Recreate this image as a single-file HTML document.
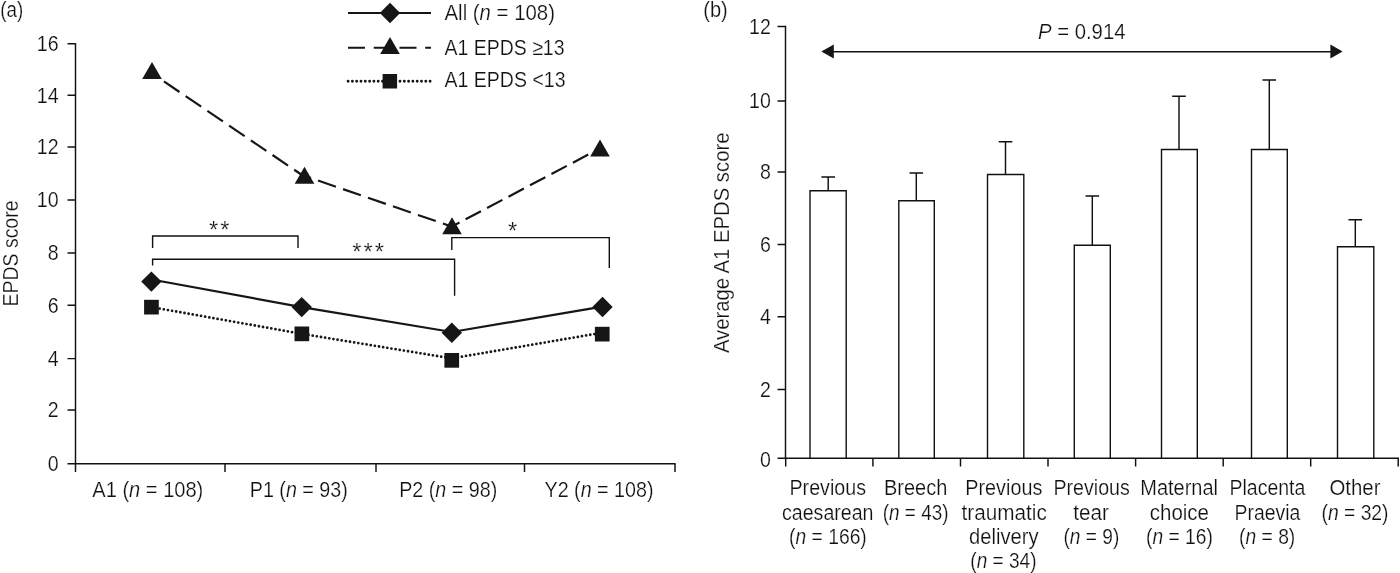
<!DOCTYPE html>
<html><head><meta charset="utf-8"><title>Figure</title>
<style>
html,body{margin:0;padding:0;background:#fff;}
body{width:1400px;height:573px;overflow:hidden;}
svg{display:block;will-change:transform;}
text{font-family:"Liberation Sans",sans-serif;font-size:22.0px;fill:#111;stroke:#fff;stroke-width:0.22px;paint-order:fill stroke;}
.ax{stroke:#111;stroke-width:1.45;fill:none;}
.th{stroke:#111;stroke-width:1.4;fill:none;}
.bar{stroke:#111;stroke-width:1.4;fill:#fff;}
.mk{fill:#161616;stroke:none;}
i,tspan.i{font-style:italic;}
.as{font-size:23.7px;letter-spacing:2.1px;}
</style></head><body>
<svg width="1400" height="573" viewBox="0 0 1400 573">
<rect width="1400" height="573" fill="#fff"/>
<text x="0.2" y="17.0" text-anchor="start" textLength="23.0" lengthAdjust="spacingAndGlyphs">(a)</text>
<path class="ax" d="M75.5 43.2V463.8H675.6"/>
<path class="ax" d="M67.5 43.8H75.5M67.5 95.2H75.5M67.5 147.0H75.5M67.5 200.0H75.5M67.5 253.0H75.5M67.5 305.2H75.5M67.5 358.6H75.5M67.5 410.0H75.5M67.5 463.8H75.5M75.5 463.8V472M225.0 463.8V472M376.0 463.8V472M524.5 463.8V472M675.0 463.8V472"/>
<text x="58.6" y="51.2" text-anchor="end" textLength="21.8" lengthAdjust="spacingAndGlyphs">16</text>
<text x="58.6" y="102.6" text-anchor="end" textLength="21.8" lengthAdjust="spacingAndGlyphs">14</text>
<text x="58.6" y="154.4" text-anchor="end" textLength="21.8" lengthAdjust="spacingAndGlyphs">12</text>
<text x="58.6" y="207.4" text-anchor="end" textLength="21.8" lengthAdjust="spacingAndGlyphs">10</text>
<text x="58.6" y="260.4" text-anchor="end" textLength="10.9" lengthAdjust="spacingAndGlyphs">8</text>
<text x="58.6" y="312.6" text-anchor="end" textLength="10.9" lengthAdjust="spacingAndGlyphs">6</text>
<text x="58.6" y="366.0" text-anchor="end" textLength="10.9" lengthAdjust="spacingAndGlyphs">4</text>
<text x="58.6" y="417.4" text-anchor="end" textLength="10.9" lengthAdjust="spacingAndGlyphs">2</text>
<text x="58.6" y="471.2" text-anchor="end" textLength="10.9" lengthAdjust="spacingAndGlyphs">0</text>
<text transform="translate(18.4 253.5) rotate(-90)" text-anchor="middle" textLength="106" lengthAdjust="spacingAndGlyphs">EPDS score</text>
<text x="92.3" y="496.8" text-anchor="start" textLength="111.0" lengthAdjust="spacingAndGlyphs">A1 (<tspan class="i">n</tspan> = 108)</text>
<text x="249.8" y="496.8" text-anchor="start" textLength="98.0" lengthAdjust="spacingAndGlyphs">P1 (<tspan class="i">n</tspan> = 93)</text>
<text x="399.2" y="496.8" text-anchor="start" textLength="98.0" lengthAdjust="spacingAndGlyphs">P2 (<tspan class="i">n</tspan> = 98)</text>
<text x="544.5" y="496.8" text-anchor="start" textLength="109.0" lengthAdjust="spacingAndGlyphs">Y2 (<tspan class="i">n</tspan> = 108)</text>
<path d="M348 13H431" stroke="#161616" stroke-width="1.8" fill="none"/>
<path d="M348 47.8H431" stroke="#161616" stroke-width="1.9" stroke-dasharray="17 8.75" fill="none"/>
<path d="M348.1 81.3H383M400 81.3H431" stroke="#161616" stroke-width="2.9" stroke-linecap="round" stroke-dasharray="0 4.3" fill="none"/>
<path class="mk" d="M379.8 13.0L390.0 2.8L400.2 13.0L390.0 23.2Z"/>
<path class="mk" d="M390.0 37.0L399.8 54.0L380.2 54.0Z"/>
<rect class="mk" x="382.6" y="74.0" width="14.5" height="14.5"/>
<text x="444.5" y="19.6" text-anchor="start" textLength="110.5" lengthAdjust="spacingAndGlyphs">All (<tspan class="i">n</tspan> = 108)</text>
<text x="444.5" y="55.0" text-anchor="start" textLength="120.0" lengthAdjust="spacingAndGlyphs">A1 EPDS &#8805;13</text>
<text x="444.5" y="87.4" text-anchor="start" textLength="121.0" lengthAdjust="spacingAndGlyphs">A1 EPDS &lt;13</text>
<path d="M150.0 72.0L302.0 175.0" stroke="#161616" stroke-width="2.2" stroke-dasharray="18.75 7.48" stroke-dashoffset="9.38" fill="none"/>
<path d="M302.0 175.0L451.8 226.6" stroke="#161616" stroke-width="2.2" stroke-dasharray="18.88 7.53" stroke-dashoffset="9.44" fill="none"/>
<path d="M451.8 226.6L602.0 147.3" stroke="#161616" stroke-width="2.2" stroke-dasharray="17.35 6.92" stroke-dashoffset="8.67" fill="none"/>
<path d="M151.4 279.5L301.7 307.1L451.8 332L602.4 306.6" stroke="#161616" stroke-width="2.2" fill="none"/>
<path d="M151.4 307.1L301.9 333.9L451.8 358.4L602.3 332.7" stroke="#161616" stroke-width="2.8" stroke-linecap="round" stroke-dasharray="0 4.2" fill="none"/>
<path class="mk" d="M152.0 62.0L161.8 79.0L142.2 79.0Z"/>
<path class="mk" d="M304.5 166.8L314.3 183.8L294.7 183.8Z"/>
<path class="mk" d="M452.0 217.3L461.8 234.3L442.2 234.3Z"/>
<path class="mk" d="M600.0 139.5L609.8 156.5L590.2 156.5Z"/>
<path class="mk" d="M141.2 281.6L151.4 271.4L161.6 281.6L151.4 291.8Z"/>
<path class="mk" d="M291.5 307.1L301.7 296.9L311.9 307.1L301.7 317.3Z"/>
<path class="mk" d="M441.6 332.7L451.8 322.5L462.0 332.7L451.8 342.9Z"/>
<path class="mk" d="M592.3 307.0L602.5 296.8L612.7 307.0L602.5 317.2Z"/>
<rect class="mk" x="144.1" y="299.8" width="14.7" height="14.7"/>
<rect class="mk" x="294.5" y="326.5" width="14.7" height="14.7"/>
<rect class="mk" x="444.4" y="353.0" width="14.7" height="14.7"/>
<rect class="mk" x="594.9" y="326.8" width="14.7" height="14.7"/>
<path class="th" d="M152.6 248V236H298V248"/>
<path class="th" d="M152.6 265.5V259.3H454.6V295.8"/>
<path class="th" d="M451.8 250V237.6H609.3V267.9"/>
<text x="208.9" y="237.6" text-anchor="start" class="as">**</text>
<text x="352.2" y="260.3" text-anchor="start" class="as">***</text>
<text x="508.0" y="239.0" text-anchor="start" class="as">*</text>
<text x="703.3" y="17.0" text-anchor="start" textLength="24.5" lengthAdjust="spacingAndGlyphs">(b)</text>
<path class="bar" d="M810.0 458.3V190.8H846.2V458.3"/>
<path class="ax" d="M828.2 190.8V177.0M821.4 177.0H835.0"/>
<path class="bar" d="M898.8 458.3V200.8H934.3V458.3"/>
<path class="ax" d="M916.3 200.8V173.0M909.5 173.0H923.1"/>
<path class="bar" d="M987.5 458.3V174.5H1023.8V458.3"/>
<path class="ax" d="M1005.5 174.5V141.8M998.7 141.8H1012.3"/>
<path class="bar" d="M1074.3 458.3V245.3H1110.3V458.3"/>
<path class="ax" d="M1092.3 245.3V196.0M1085.5 196.0H1099.1"/>
<path class="bar" d="M1161.5 458.3V149.5H1197.3V458.3"/>
<path class="ax" d="M1179.0 149.5V96.3M1172.2 96.3H1185.8"/>
<path class="bar" d="M1251.5 458.3V149.5H1287.3V458.3"/>
<path class="ax" d="M1269.3 149.5V80.0M1262.5 80.0H1276.1"/>
<path class="bar" d="M1337.5 458.3V246.8H1373.8V458.3"/>
<path class="ax" d="M1355.3 246.8V219.8M1348.5 219.8H1362.1"/>
<path class="ax" d="M785.5 25.7V458.3H1399"/>
<path class="ax" d="M777.5 26.4H785.5M777.5 101.0H785.5M777.5 172.0H785.5M777.5 244.5H785.5M777.5 316.8H785.5M777.5 389.5H785.5M777.5 458.3H785.5M785.7 458.3V466.4M872.9 458.3V466.4M960.5 458.3V466.4M1048.0 458.3V466.4M1135.6 458.3V466.4M1223.2 458.3V466.4M1310.7 458.3V466.4M1398.2 458.3V466.4"/>
<text x="770.8" y="33.8" text-anchor="end" textLength="21.8" lengthAdjust="spacingAndGlyphs">12</text>
<text x="770.8" y="108.4" text-anchor="end" textLength="21.8" lengthAdjust="spacingAndGlyphs">10</text>
<text x="770.8" y="179.4" text-anchor="end" textLength="10.9" lengthAdjust="spacingAndGlyphs">8</text>
<text x="770.8" y="251.9" text-anchor="end" textLength="10.9" lengthAdjust="spacingAndGlyphs">6</text>
<text x="770.8" y="324.2" text-anchor="end" textLength="10.9" lengthAdjust="spacingAndGlyphs">4</text>
<text x="770.8" y="396.9" text-anchor="end" textLength="10.9" lengthAdjust="spacingAndGlyphs">2</text>
<text x="770.8" y="466.9" text-anchor="end" textLength="10.9" lengthAdjust="spacingAndGlyphs">0</text>
<text transform="translate(728.8 242.8) rotate(-90)" text-anchor="middle" textLength="220.5" lengthAdjust="spacingAndGlyphs">Average A1 EPDS score</text>
<path class="ax" d="M832 51.7H1332"/>
<path class="mk" d="M821.3 51.5L833.8 44.6V58.4Z"/>
<path class="mk" d="M1342.6 51.5L1330.4 44.6V58.4Z"/>
<text x="1038.0" y="38.8" text-anchor="start" textLength="87.5" lengthAdjust="spacingAndGlyphs"><tspan class="i">P</tspan> = 0.914</text>
<text x="789.5" y="495.0" text-anchor="start" textLength="76.5" lengthAdjust="spacingAndGlyphs">Previous</text>
<text x="782.0" y="519.5" text-anchor="start" textLength="91.5" lengthAdjust="spacingAndGlyphs">caesarean</text>
<text x="789.0" y="543.8" text-anchor="start" textLength="77.8" lengthAdjust="spacingAndGlyphs">(<tspan class="i">n</tspan> = 166)</text>
<text x="884.0" y="495.0" text-anchor="start" textLength="63.3" lengthAdjust="spacingAndGlyphs">Breech</text>
<text x="882.8" y="519.5" text-anchor="start" textLength="65.7" lengthAdjust="spacingAndGlyphs">(<tspan class="i">n</tspan> = 43)</text>
<text x="965.3" y="495.0" text-anchor="start" textLength="77.0" lengthAdjust="spacingAndGlyphs">Previous</text>
<text x="961.5" y="519.5" text-anchor="start" textLength="85.3" lengthAdjust="spacingAndGlyphs">traumatic</text>
<text x="969.0" y="543.8" text-anchor="start" textLength="69.5" lengthAdjust="spacingAndGlyphs">delivery</text>
<text x="970.3" y="568.3" text-anchor="start" textLength="66.2" lengthAdjust="spacingAndGlyphs">(<tspan class="i">n</tspan> = 34)</text>
<text x="1053.5" y="495.0" text-anchor="start" textLength="76.3" lengthAdjust="spacingAndGlyphs">Previous</text>
<text x="1073.3" y="519.5" text-anchor="start" textLength="35.7" lengthAdjust="spacingAndGlyphs">tear</text>
<text x="1063.5" y="543.8" text-anchor="start" textLength="55.8" lengthAdjust="spacingAndGlyphs">(<tspan class="i">n</tspan> = 9)</text>
<text x="1140.3" y="495.0" text-anchor="start" textLength="77.7" lengthAdjust="spacingAndGlyphs">Maternal</text>
<text x="1149.8" y="519.5" text-anchor="start" textLength="59.2" lengthAdjust="spacingAndGlyphs">choice</text>
<text x="1146.0" y="543.8" text-anchor="start" textLength="66.8" lengthAdjust="spacingAndGlyphs">(<tspan class="i">n</tspan> = 16)</text>
<text x="1229.5" y="495.0" text-anchor="start" textLength="75.8" lengthAdjust="spacingAndGlyphs">Placenta</text>
<text x="1234.5" y="519.5" text-anchor="start" textLength="65.8" lengthAdjust="spacingAndGlyphs">Praevia</text>
<text x="1239.0" y="543.8" text-anchor="start" textLength="56.3" lengthAdjust="spacingAndGlyphs">(<tspan class="i">n</tspan> = 8)</text>
<text x="1329.5" y="495.0" text-anchor="start" textLength="51.0" lengthAdjust="spacingAndGlyphs">Other</text>
<text x="1321.5" y="519.5" text-anchor="start" textLength="67.0" lengthAdjust="spacingAndGlyphs">(<tspan class="i">n</tspan> = 32)</text>
</svg>
</body></html>
